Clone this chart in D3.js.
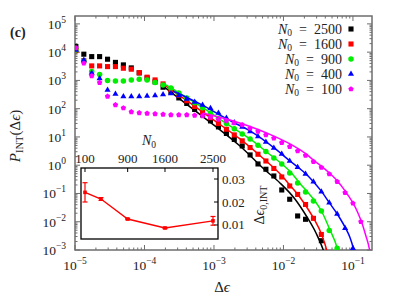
<!DOCTYPE html>
<html>
<head>
<meta charset="utf-8">
<script src="https://cdnjs.cloudflare.com/ajax/libs/d3/7.8.5/d3.min.js"></script>
<style>
  body { margin: 0; background: #fff; }
  svg { display: block; font-family: "Liberation Serif", "DejaVu Serif", serif; }
</style>
</head>
<body>
<div id="chart"></div>
<script>
// Bin centres (delta epsilon), shared by every series
var eps = [1.03e-5, 1.34e-5, 1.74e-5, 2.26e-5, 2.94e-5, 3.82e-5, 4.97e-5, 6.46e-5, 8.40e-5,
  1.09e-4, 1.42e-4, 1.85e-4, 2.40e-4, 3.12e-4, 4.06e-4, 5.27e-4, 6.85e-4, 8.91e-4,
  1.16e-3, 1.51e-3, 1.96e-3, 2.55e-3, 3.31e-3, 4.30e-3, 5.59e-3, 7.27e-3, 9.45e-3,
  1.23e-2, 1.60e-2, 2.08e-2, 2.70e-2, 3.51e-2, 4.56e-2, 5.93e-2, 7.71e-2, 0.100, 0.130];

// P_INT values per N0 (null = no point)
var p2500 = [15700, 8460, 6950, 6950, 5620, 4340, 3540, 2770, 1840, 1225, 885, 574, 392, 240, 153, 94, 60,
  36.8, 22.6, 13.3, 8.16, 4.80, 2.31, 1.107, 0.719, 0.416, 0.133, 0.0624, 0.0160, 0.0122, null, 0.00213,
  null, null, null, null, null];
var p1600 = [11350, 5020, 3260, 3260, 3080, 3080, 2700, 2490, 1890, 1300, 1040, 752, 476, 299, 191, 120, 76,
  47.9, 29.8, 18.7, 11.8, 7.28, 4.22, 2.44, 1.41, 0.767, 0.384, 0.184, 0.0923, 0.0408, 0.0132, 0.00354,
  null, null, null, null, null];
var p900 = [12000, 4900, 2050, 1630, 1000, 960, 960, 1040, 1100, 1040, 849, 693, 538, 361, 240, 162, 108,
  70.2, 45.5, 29.6, 19.4, 12.8, 8.43, 5.08, 3.07, 1.81, 1.107, 0.532, 0.236, 0.113, 0.0543, 0.0241,
  0.0049, 0.00115, null, null, null];
var p400 = [11800, 5320, 1840, 1180, 461, 333, 271, 270, 271, 283, 294, 319, 347, 294, 221, 173, 136,
  104, 70.7, 47.1, 32.1, 22.6, 15.7, 10.4, 6.65, 4.08, 2.50, 1.41, 0.845, 0.490, 0.262, 0.116,
  0.0472, 0.0188, 0.00586, 0.00115, null];
var p100 = [14100, 4060, 1440, 836, 271, 136, 106, 76.7, 70.7, 67.9, 65.2, 62.6, 60.1, 60.1, 60.1, 57.7, 55.4,
  49.0, 41.6, 36.8, 31.3, 26.6, 20.3, 15.7, 11.8, 9.0, 6.28, 4.54, 3.19, 2.21, 1.34, 0.832,
  0.490, 0.262, 0.107, 0.0450, 0.0100];

// Fitted curves, [delta epsilon, P]
var fit2500 = [[1.845e-4, 638], [4.52e-4, 115], [1.033e-3, 24.5], [2.366e-3, 4.80], [5.42e-3, 0.679],
  [8.91e-3, 0.236], [1.462e-2, 0.0638], [2.178e-2, 0.0147], [2.94e-2, 0.0040], [3.74e-2, 0.001], [4.23e-2, 3.76e-4]];
var fit1600 = [[1.845e-4, 752], [4.52e-4, 160], [1.033e-3, 36.8], [2.366e-3, 8.49], [5.42e-3, 1.53],
  [9.84e-3, 0.384], [1.282e-2, 0.177], [1.671e-2, 0.0817], [2.11e-2, 0.0361], [2.75e-2, 0.0125],
  [3.52e-2, 0.00368], [4.19e-2, 0.001], [4.59e-2, 3.76e-4]];
var fit900 = [[2.04e-4, 693], [6.30e-4, 125], [1.70e-3, 24.5], [3.30e-3, 8.49], [5.98e-3, 2.71],
  [9.84e-3, 1.02], [1.324e-2, 0.511], [1.70e-2, 0.236], [2.21e-2, 0.113], [2.84e-2, 0.0543],
  [3.58e-2, 0.0221], [4.67e-2, 0.0051], [5.94e-2, 0.00115], [6.50e-2, 4.43e-4]];
var fit400 = [[2.57e-4, 425], [6.30e-4, 147], [1.70e-3, 37.8], [3.30e-3, 16.3], [7.98e-3, 3.47],
  [1.242e-2, 1.41], [1.618e-2, 0.845], [2.11e-2, 0.490], [2.70e-2, 0.262], [3.55e-2, 0.116],
  [4.56e-2, 0.0472], [5.94e-2, 0.0188], [7.85e-2, 0.00586], [9.06e-2, 0.00277], [0.1010, 0.00118], [0.1086, 5.2e-4]];
var fit100 = [[6.87e-4, 70.7], [1.70e-3, 40.0], [3.30e-3, 23.5], [6.40e-3, 12.3], [1.242e-2, 5.65],
  [2.11e-2, 2.50], [2.70e-2, 1.53], [3.55e-2, 0.904], [4.67e-2, 0.511], [5.98e-2, 0.277], [7.80e-2, 0.118],
  [0.1010, 0.0443], [0.118, 0.0204], [0.1346, 0.00904], [0.1537, 0.00313], [0.1717, 0.00115], [0.1815, 5.2e-4]];

// Inset: cutoff vs N0
var insetN = [100, 400, 900, 1600, 2500];
var insetEps0 = [0.0242, 0.0213, 0.0126, 0.0087, 0.0118];
var insetErr = [0.0042, 0.0006, 0.0003, 0.0003, 0.0019];
var insetXTicks = [100, 900, 1600, 2500];
var insetYTicks = [0.01, 0.02, 0.03];

var seriesLabels = ["2500", "1600", "900", "400", "100"];
var seriesColors = ["#000000", "#ff0000", "#00ee00", "#0000ff", "#ff00ff"];

var svgWidth = 400;
var svgHeight = 300;
var margin = { top: 16, right: 28, bottom: 50, left: 75 };
var width = svgWidth - margin.left - margin.right;
var height = svgHeight - margin.top - margin.bottom;
var frameColor = "#6e6e6e";
var textColor = "#222";
var epsChar = "\u03f5";

var svg = d3.select("#chart").append("svg")
  .attr("width", svgWidth)
  .attr("height", svgHeight);

var chartGroup = svg.append("g")
  .attr("transform", `translate(${margin.left}, ${margin.top})`);

var x = d3.scaleLog().domain([1e-5, 0.188]).range([0, width]);
var y = d3.scaleLog().domain([1e-3, 1.9e5]).range([height, 0]);

svg.append("defs").append("clipPath").attr("id", "plotClip")
  .append("rect").attr("width", width).attr("height", height);

function isDecade(t) {
  var l = Math.log10(t);
  return Math.abs(l - Math.round(l)) < 1e-6;
}

// ticks inside on all four sides
x.ticks().forEach(function (t) {
  var len = isDecade(t) ? 5 : 2.5;
  var px = x(t);
  chartGroup.append("line").attr("x1", px).attr("x2", px).attr("y1", height).attr("y2", height - len)
    .attr("stroke", frameColor).attr("stroke-width", 1);
  chartGroup.append("line").attr("x1", px).attr("x2", px).attr("y1", 0).attr("y2", len)
    .attr("stroke", frameColor).attr("stroke-width", 1);
});
y.ticks().forEach(function (t) {
  var len = isDecade(t) ? 5 : 2.5;
  var py = y(t);
  chartGroup.append("line").attr("x1", 0).attr("x2", len).attr("y1", py).attr("y2", py)
    .attr("stroke", frameColor).attr("stroke-width", 1);
  chartGroup.append("line").attr("x1", width).attr("x2", width - len).attr("y1", py).attr("y2", py)
    .attr("stroke", frameColor).attr("stroke-width", 1);
});

// tick labels 10^n
function powerLabel(sel, n) {
  sel.append("tspan").text("10");
  sel.append("tspan").attr("dy", -6).attr("font-size", "9.5px")
    .text(n < 0 ? "\u2212" + (-n) : String(n));
}
x.ticks().filter(isDecade).forEach(function (t) {
  var n = Math.round(Math.log10(t));
  var lab = chartGroup.append("text")
    .attr("x", x(t)).attr("y", height + 20)
    .attr("text-anchor", "middle").attr("font-size", "13.5px").attr("fill", textColor);
  powerLabel(lab, n);
});
y.ticks().filter(isDecade).forEach(function (t) {
  var n = Math.round(Math.log10(t));
  var lab = chartGroup.append("text")
    .attr("x", -9).attr("y", y(t) + 5)
    .attr("text-anchor", "end").attr("font-size", "13.5px").attr("fill", textColor);
  powerLabel(lab, n);
});

// frame
chartGroup.append("rect").attr("width", width).attr("height", height)
  .attr("fill", "none").attr("stroke", frameColor).attr("stroke-width", 1.5);

// filled pentagon for N0 = 100
var symbolPentagon = {
  draw: function (context, size) {
    var r = Math.sqrt(size / 2.378);
    for (var j = 0; j < 5; j++) {
      var a = -Math.PI / 2 + j * 2 * Math.PI / 5;
      if (j === 0) context.moveTo(r * Math.cos(a), r * Math.sin(a));
      else context.lineTo(r * Math.cos(a), r * Math.sin(a));
    }
    context.closePath();
  }
};

function markerPath(k) {
  var types = [d3.symbolSquare, d3.symbolSquare, d3.symbolCircle, d3.symbolTriangle, symbolPentagon];
  var sizes = [26, 26, 24, 16, 19];
  return d3.symbol().type(types[k]).size(sizes[k])();
}

var plotArea = chartGroup.append("g").attr("clip-path", "url(#plotClip)");
var allSeries = [p2500, p1600, p900, p400, p100];
var allFits = [fit2500, fit1600, fit900, fit400, fit100];

var fitLine = d3.line()
  .x(d => x(d[0]))
  .y(d => y(d[1]))
  .curve(d3.curveMonotoneX);

allSeries.forEach(function (vals, k) {
  var pts = eps.map((e, i) => [e, vals[i]]).filter(d => d[1] !== null);
  plotArea.selectAll(".pt" + k)
    .data(pts)
    .enter()
    .append("path")
    .attr("d", markerPath(k))
    .attr("transform", d => `translate(${x(d[0])}, ${y(d[1])})`)
    .attr("fill", seriesColors[k]);
  plotArea.append("path")
    .datum(allFits[k])
    .attr("d", fitLine)
    .attr("fill", "none")
    .attr("stroke", seriesColors[k])
    .attr("stroke-width", 1.5);
});

// legend
var legend = chartGroup.append("g").attr("font-size", "14px").attr("fill", textColor);
seriesLabels.forEach(function (lab, k) {
  var ly = 13 + k * 15;
  var t = legend.append("text").attr("x", 267).attr("y", ly + 4.5).attr("text-anchor", "end");
  t.append("tspan").attr("font-style", "italic").text("N");
  t.append("tspan").attr("font-size", "9.5px").attr("dy", 2.5).text("0");
  t.append("tspan").attr("dy", -2.5).text("\u2002=\u2002" + lab);
  legend.append("path").attr("d", markerPath(k))
    .attr("transform", `translate(276, ${ly})`)
    .attr("fill", seriesColors[k]);
});

// axis labels
var xLab = svg.append("text").attr("x", 222).attr("y", 292)
  .attr("text-anchor", "middle").attr("font-size", "15px").attr("fill", textColor);
xLab.append("tspan").text("\u0394");
xLab.append("tspan").attr("font-style", "italic").text(epsChar);

var yLab = svg.append("text")
  .attr("transform", "translate(20, 136) rotate(-90)")
  .attr("text-anchor", "middle").attr("font-size", "15px").attr("fill", textColor);
yLab.append("tspan").attr("font-style", "italic").text("P");
yLab.append("tspan").attr("font-size", "10.5px").attr("dy", 3).text("INT");
yLab.append("tspan").attr("dy", -3).text("(\u0394");
yLab.append("tspan").attr("font-style", "italic").text(epsChar);
yLab.append("tspan").text(")");

svg.append("text").attr("x", 10).attr("y", 37)
  .attr("font-size", "14px").attr("font-weight", "bold").attr("fill", textColor).text("(c)");

// inset
var inset = { left: 81, top: 168, width: 137, height: 71 };
var insetGroup = svg.append("g").attr("transform", `translate(${inset.left}, ${inset.top})`);
var ix = d3.scaleLinear().domain([25, 2594]).range([0, inset.width]);
var iy = d3.scaleLinear().domain([0.0039, 0.0348]).range([inset.height, 0]);

insetGroup.append("rect").attr("width", inset.width).attr("height", inset.height)
  .attr("fill", "#fff").attr("stroke", "#000").attr("stroke-width", 1.3);

insetXTicks.forEach(function (t) {
  insetGroup.append("line").attr("x1", ix(t)).attr("x2", ix(t)).attr("y1", 0).attr("y2", 4)
    .attr("stroke", "#000").attr("stroke-width", 1);
  insetGroup.append("text").attr("x", ix(t)).attr("y", -5).attr("text-anchor", "middle")
    .attr("font-size", "13px").attr("fill", textColor).text(t);
});
insetYTicks.forEach(function (t) {
  insetGroup.append("line").attr("x1", inset.width).attr("x2", inset.width - 4)
    .attr("y1", iy(t)).attr("y2", iy(t)).attr("stroke", "#000").attr("stroke-width", 1);
  insetGroup.append("text").attr("x", inset.width + 4).attr("y", iy(t) + 4.5)
    .attr("font-size", "13px").attr("fill", textColor).text(t.toFixed(2));
});

var nLab = insetGroup.append("text").attr("x", 68).attr("y", -23)
  .attr("text-anchor", "middle").attr("font-size", "14px").attr("fill", textColor);
nLab.append("tspan").attr("font-style", "italic").text("N");
nLab.append("tspan").attr("font-size", "9.5px").attr("dy", 2.5).text("0");

var eLab = insetGroup.append("text")
  .attr("transform", `translate(${inset.width + 46}, 37) rotate(-90)`)
  .attr("text-anchor", "middle").attr("font-size", "14px").attr("fill", textColor);
eLab.append("tspan").text("\u0394");
eLab.append("tspan").attr("font-style", "italic").text(epsChar);
eLab.append("tspan").attr("font-size", "10px").attr("dy", 3).text("0,INT");

var insetPts = insetN.map((n, i) => ({ n: n, v: insetEps0[i], e: insetErr[i] }));
insetGroup.append("path")
  .datum(insetPts)
  .attr("d", d3.line().x(d => ix(d.n)).y(d => iy(d.v)))
  .attr("fill", "none").attr("stroke", "#ff0000").attr("stroke-width", 1.4);

var errG = insetGroup.selectAll(".err").data(insetPts).enter().append("g").attr("stroke", "#ff0000").attr("stroke-width", 1.2);
errG.append("line").attr("x1", d => ix(d.n)).attr("x2", d => ix(d.n))
  .attr("y1", d => iy(d.v - d.e)).attr("y2", d => iy(d.v + d.e));
errG.append("line").attr("x1", d => ix(d.n) - 2.5).attr("x2", d => ix(d.n) + 2.5)
  .attr("y1", d => iy(d.v - d.e)).attr("y2", d => iy(d.v - d.e));
errG.append("line").attr("x1", d => ix(d.n) - 2.5).attr("x2", d => ix(d.n) + 2.5)
  .attr("y1", d => iy(d.v + d.e)).attr("y2", d => iy(d.v + d.e));
insetGroup.selectAll(".ipt").data(insetPts).enter().append("rect")
  .attr("x", d => ix(d.n) - 1.8).attr("y", d => iy(d.v) - 1.8)
  .attr("width", 3.6).attr("height", 3.6).attr("fill", "#ff0000");
</script>
</body>
</html>
